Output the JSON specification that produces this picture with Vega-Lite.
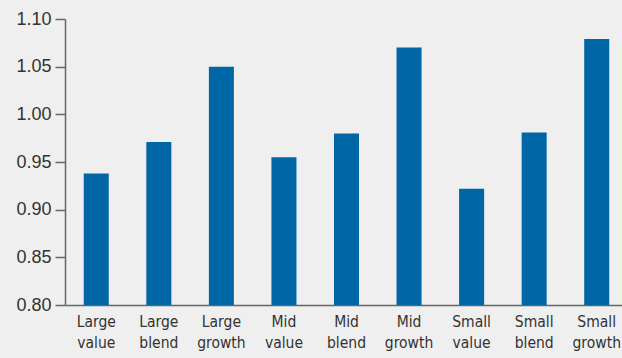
{
  "$schema": "https://vega.github.io/schema/vega-lite/v6.json",
  "autosize": {"type": "none"},
  "padding": {"left": 65, "top": 19, "right": 0, "bottom": 53},
  "width": 563,
  "height": 286,
  "background": "#efefef",
  "config": {
    "view": {"stroke": null},
    "axis": {"grid": false}
  },
  "data": {
    "values": [
      {"category": "Large value", "value": 0.938},
      {"category": "Large blend", "value": 0.971},
      {"category": "Large growth", "value": 1.05},
      {"category": "Mid value", "value": 0.955},
      {"category": "Mid blend", "value": 0.98},
      {"category": "Mid growth", "value": 1.07},
      {"category": "Small value", "value": 0.922},
      {"category": "Small blend", "value": 0.981},
      {"category": "Small growth", "value": 1.079}
    ]
  },
  "mark": {"type": "bar", "color": "#0066a6"},
  "encoding": {
    "x": {
      "field": "category",
      "type": "nominal",
      "sort": null,
      "scale": {"paddingInner": 0.6, "paddingOuter": 0.3},
      "axis": {
        "title": null,
        "labelAngle": 0,
        "ticks": false,
        "domainColor": "#666666",
        "domainWidth": 1.5,
        "labelFont": "DejaVu Sans Condensed",
        "labelFontSize": 15.5,
        "labelColor": "#333333",
        "labelPadding": 9,
        "labelLineHeight": 21,
        "labelBaseline": "top",
        "labelExpr": "split(datum.label, ' ')"
      }
    },
    "y": {
      "field": "value",
      "type": "quantitative",
      "scale": {"domain": [0.8, 1.1], "zero": false, "nice": false},
      "axis": {
        "title": null,
        "values": [0.8, 0.85, 0.9, 0.95, 1.0, 1.05, 1.1],
        "format": ".2f",
        "tickSize": 10,
        "tickColor": "#666666",
        "tickWidth": 1.5,
        "domainColor": "#666666",
        "domainWidth": 1.5,
        "labelFont": "Liberation Sans",
        "labelFontSize": 18,
        "labelColor": "#333333",
        "labelPadding": 4
      }
    },
    "y2": {"datum": 0.8}
  }
}
